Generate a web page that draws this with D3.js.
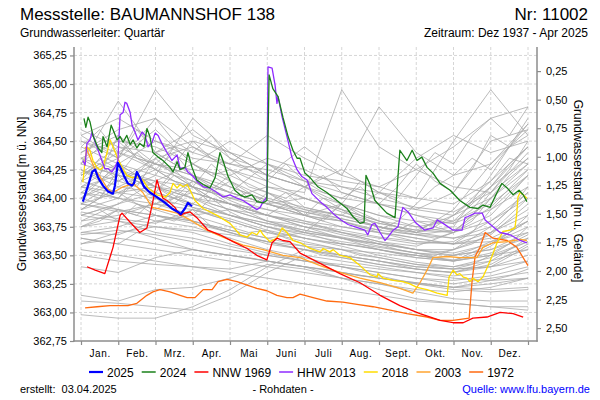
<!DOCTYPE html>
<html><head><meta charset="utf-8">
<script src="https://cdn.jsdelivr.net/npm/d3@7"></script>
<style>
body{margin:0;background:#fff}
svg{display:block;font-family:Arial,"Liberation Sans",sans-serif}
</style></head>
<body><svg id="c" width="600" height="400"></svg>
<script>
// ---------- data ----------
const monthLabels = ["Jan.","Feb.","Mrz.","Apr.","Mai","Juni","Juli","Aug.","Sept.","Okt.","Nov.","Dez."];
const leftTicks = [362.75,363.00,363.25,363.50,363.75,364.00,364.25,364.50,364.75,365.00,365.25];
const rightTicks = [0.25,0.50,0.75,1.00,1.25,1.50,1.75,2.00,2.25,2.50];
const groundLevel = 365.363;
const grayX = [0,1,2,3,4,5,6,7,8,9,10,11,12];
const grayXHalf = [0,0.5,1,1.5,2,2.5,3,3.5,4,4.5,5,5.5,6,6.5,7,7.5,8,8.5,9,9.5,10,10.5,11,11.5,12];
const grayYears = [
 [364.40,364.55,364.30,364.20,364.05,363.95,363.85,363.80,363.70,363.62,363.60,363.70,363.90],
 [364.20,364.35,364.60,364.30,364.10,363.98,363.90,363.82,363.75,363.68,363.65,363.75,364.05],
 [364.05,364.00,363.95,364.15,363.98,363.85,363.75,363.70,363.62,363.55,363.50,363.55,363.65],
 [363.90,364.10,364.25,364.05,363.95,363.80,363.70,363.65,363.55,363.50,363.45,363.60,363.80],
 [363.80,363.85,363.95,363.90,363.80,363.70,363.62,363.55,363.48,363.42,363.40,363.45,363.55],
 [364.30,364.85,364.40,364.60,364.35,364.15,364.00,363.90,363.80,363.75,363.80,364.10,364.45],
 [364.50,364.35,364.95,364.55,364.40,364.20,364.10,364.25,364.05,363.90,363.85,364.00,364.30],
 [363.70,363.75,363.85,363.80,363.70,363.60,363.55,363.50,363.45,363.40,363.38,363.40,363.50],
 [364.10,364.20,364.15,364.10,364.00,363.90,363.85,363.95,363.85,363.75,363.70,363.85,364.20],
 [363.95,364.05,364.10,364.00,363.90,363.85,363.80,363.70,363.65,363.60,363.62,363.80,364.00],
 [364.25,364.15,364.35,364.45,364.25,364.10,364.05,364.95,364.45,364.25,364.10,364.05,364.30],
 [364.00,363.90,363.85,363.80,363.72,363.65,363.58,363.50,363.45,363.38,363.35,363.42,363.60],
 [363.60,363.70,363.75,363.70,363.60,363.52,363.45,363.40,363.35,363.30,363.28,363.32,363.40],
 [364.45,364.30,364.50,364.35,364.30,364.20,364.45,364.20,364.80,364.40,364.20,364.30,364.60],
 [364.15,364.30,364.20,364.70,364.40,364.20,364.10,364.00,363.95,363.85,363.80,363.95,364.20],
 [363.85,363.95,364.05,363.95,363.85,363.75,363.68,363.62,363.57,363.52,363.50,363.55,363.70],
 [364.35,364.50,364.45,364.30,364.50,364.30,364.15,364.05,363.95,363.90,364.05,364.50,364.60],
 [363.75,363.80,363.70,363.65,363.58,363.50,363.45,363.40,363.35,363.30,363.25,363.30,363.35],
 [364.00,364.15,364.30,364.20,364.05,364.30,364.10,363.95,363.85,363.80,363.78,363.90,364.10],
 [364.55,364.70,364.50,364.40,364.30,364.25,364.15,364.10,364.05,364.00,364.50,364.95,364.55],
 [364.10,364.05,364.00,363.92,363.85,363.78,363.70,363.65,363.60,363.55,363.52,363.60,363.75],
 [363.65,363.60,363.55,363.50,363.45,363.40,363.35,363.30,363.25,363.20,363.18,363.22,363.30],
 [364.30,364.20,364.10,364.05,363.95,363.85,363.78,363.70,363.62,363.58,363.70,364.00,364.25],
 [363.95,363.90,363.80,363.85,363.90,363.80,363.72,363.65,363.58,363.52,363.45,363.50,363.62],
 [364.60,364.45,364.40,364.50,364.40,364.30,364.20,364.15,364.10,364.25,364.45,364.70,364.80],
 [364.20,364.40,364.25,364.15,364.00,363.95,364.00,363.90,363.80,363.70,363.65,363.70,363.85],
 [363.80,363.95,364.15,364.00,363.85,363.75,363.65,363.60,363.55,363.48,363.45,363.52,363.68],
 [364.05,364.25,364.10,364.00,363.95,363.90,363.80,363.75,363.70,363.65,363.60,363.65,363.80],
 [363.70,363.68,363.80,363.75,363.65,363.55,363.48,363.40,363.32,363.25,363.22,363.25,363.30],
 [363.10,363.08,363.05,363.02,363.15,363.35,363.50,363.45,363.40,363.35,363.30,363.28,363.30],
 [362.98,362.95,362.95,363.05,363.20,363.40,363.55,363.50,363.45,363.40,363.38,363.40,363.45],
 [363.15,363.10,363.20,363.22,363.30,363.42,363.38,363.30,363.25,363.18,363.12,363.10,363.10],
 [363.55,363.50,363.45,363.40,363.35,363.30,363.25,363.20,363.15,363.10,363.08,363.05,363.05],
 [363.40,363.35,363.48,363.55,363.50,363.45,363.40,363.35,363.30,363.25,363.20,363.18,363.20],
 [363.50,363.45,363.42,363.40,363.38,363.45,363.40,363.30,363.20,363.12,363.08,363.05,363.02],
 [364.25,364.10,364.05,363.95,364.20,364.05,363.90,363.85,364.05,364.35,364.55,364.40,364.50],
 [363.90,364.00,363.90,363.80,363.72,363.65,363.70,363.95,363.80,363.70,363.90,364.30,364.65],
 [364.40,364.60,364.70,364.45,364.30,364.55,364.35,364.20,364.10,364.00,363.95,364.15,364.45],
 [363.85,363.80,363.75,363.72,363.68,363.62,363.58,363.55,363.52,363.48,363.45,363.50,363.55],
 [364.15,364.05,364.20,364.10,364.00,364.10,364.00,363.88,363.78,363.72,363.85,364.10,364.35],
 [364.00,364.30,364.10,363.95,363.85,363.78,363.72,363.66,363.60,363.55,363.55,363.68,363.95],
 [363.75,363.90,363.85,363.78,363.70,363.62,363.55,363.48,363.42,363.38,363.35,363.40,363.58],
 [364.35,364.25,364.15,364.30,364.15,364.00,363.92,363.85,363.78,363.72,363.70,363.80,364.05],
 [363.60,363.65,363.60,363.55,363.50,363.45,363.40,363.35,363.30,363.26,363.22,363.20,363.22],
 [364.10,364.00,364.40,364.20,364.10,363.98,363.88,363.82,363.75,363.70,363.75,364.20,364.70],
 [363.88,363.82,363.78,363.90,363.82,363.72,363.65,363.58,363.50,363.44,363.40,363.48,363.62],
 [364.22,364.45,364.30,364.15,364.05,363.95,363.88,363.80,363.72,363.68,363.72,363.92,364.25],
 [363.95,363.88,363.95,364.05,363.95,363.85,363.78,363.72,363.66,363.62,363.60,363.62,363.70],
 [364.50,364.40,364.30,364.25,364.20,364.35,364.25,364.10,364.00,363.92,363.88,364.05,364.40],
 [363.68,363.72,363.68,363.62,363.55,363.50,363.45,363.42,363.38,363.35,363.32,363.35,363.45]
];
const grayYearsHalf = [
 [364.30,364.45,364.35,364.60,364.40,364.30,364.50,364.35,364.25,364.20,364.15,364.30,364.15,364.05,364.00,364.10,363.95,363.90,363.85,363.80,363.78,363.90,364.10,364.30,364.45],
 [364.10,364.20,364.55,364.35,364.25,364.40,364.20,364.10,364.05,364.00,363.95,363.90,363.85,363.80,363.95,363.85,363.75,363.70,363.68,363.65,363.70,363.80,364.00,364.20,364.35],
 [363.95,364.05,364.00,364.15,364.05,364.25,364.10,364.00,363.95,363.90,363.85,363.80,363.75,363.72,363.68,363.65,363.60,363.58,363.55,363.52,363.55,363.60,363.70,363.85,364.00],
 [364.45,364.60,364.40,364.50,364.70,364.50,364.40,364.55,364.35,364.30,364.20,364.15,364.10,364.20,364.05,364.00,363.95,364.10,364.30,364.15,364.05,364.25,364.55,364.45,364.65],
 [363.85,363.90,363.80,363.95,363.85,363.80,363.90,363.75,363.70,363.65,363.62,363.58,363.55,363.50,363.48,363.45,363.42,363.40,363.38,363.36,363.35,363.40,363.45,363.55,363.65],
 [364.20,364.30,364.15,364.10,364.35,364.20,364.10,364.05,364.15,364.00,363.95,364.05,363.92,363.88,363.85,363.80,363.75,363.72,363.80,363.75,363.70,363.85,364.05,364.25,364.50],
 [364.05,364.00,364.25,364.10,364.00,363.95,364.10,363.95,363.90,363.85,363.80,363.78,363.75,363.70,363.65,363.62,363.60,363.55,363.52,363.50,363.55,363.65,363.75,363.90,364.10],
 [364.55,364.45,364.50,364.35,364.30,364.45,364.30,364.20,364.25,364.10,364.05,364.00,364.10,364.00,363.95,364.15,364.05,364.00,364.20,364.40,364.30,364.55,364.70,364.55,364.80],
 [363.75,363.80,363.90,363.85,364.00,363.90,363.85,363.80,363.75,363.70,363.72,363.65,363.60,363.58,363.55,363.50,363.48,363.45,363.42,363.40,363.38,363.42,363.50,363.60,363.75],
 [364.25,364.15,364.30,364.20,364.10,364.00,364.15,364.05,363.95,363.90,364.05,363.95,363.85,364.00,363.90,363.80,363.75,363.72,363.70,363.75,363.85,364.00,364.15,364.35,364.30],
 [364.00,364.10,364.05,363.95,363.90,364.00,363.92,363.85,363.80,363.75,363.70,363.68,363.65,363.62,363.60,363.58,363.55,363.52,363.50,363.48,363.50,363.55,363.62,363.70,363.80],
 [364.35,364.25,364.20,364.40,364.25,364.15,364.10,364.30,364.15,364.05,363.95,363.90,363.85,363.82,363.80,363.75,363.72,363.80,363.95,364.10,364.20,364.35,364.25,364.45,364.55],
 [363.90,364.00,364.20,364.05,363.95,363.90,363.85,364.00,363.88,363.80,363.75,363.72,363.70,363.65,363.60,363.58,363.55,363.52,363.50,363.48,363.46,363.50,363.58,363.70,363.85],
 [364.15,364.35,364.25,364.15,364.05,364.20,364.10,364.00,363.95,363.90,363.85,363.95,363.85,363.80,363.75,363.72,363.70,363.68,363.65,363.62,363.60,363.70,363.90,364.05,364.20],
 [363.65,363.62,363.60,363.70,363.65,363.60,363.55,363.52,363.50,363.48,363.45,363.42,363.40,363.38,363.35,363.32,363.30,363.28,363.26,363.24,363.22,363.25,363.28,363.32,363.38]
];
// highlighted years: [month position, level m ü. NN]
const y2025 = [[0.05,363.97],[0.19,364.11],[0.30,364.23],[0.38,364.25],[0.46,364.18],[0.59,364.11],[0.72,364.06],[0.86,364.04],[0.91,364.11],[0.99,364.31],[1.07,364.26],[1.15,364.20],[1.26,364.13],[1.37,364.11],[1.42,364.13],[1.50,364.23],[1.58,364.18],[1.69,364.10],[1.85,364.05],[2.04,364.01],[2.26,363.96],[2.44,363.91],[2.60,363.88],[2.68,363.86],[2.79,363.91],[2.87,363.96],[2.98,363.93]];
const y2024 = [[0.08,364.70],[0.13,364.62],[0.19,364.71],[0.24,364.67],[0.32,364.55],[0.46,364.44],[0.56,364.40],[0.59,364.54],[0.70,364.45],[0.81,364.64],[0.86,364.60],[0.97,364.51],[1.05,364.54],[1.13,364.49],[1.23,364.55],[1.32,364.47],[1.40,364.51],[1.50,364.44],[1.58,364.48],[1.69,364.45],[1.77,364.61],[1.85,364.54],[1.93,364.40],[2.07,364.36],[2.20,364.33],[2.39,364.27],[2.47,364.23],[2.58,364.32],[2.66,364.25],[2.79,364.27],[2.87,364.40],[2.98,364.27],[3.11,364.16],[3.28,364.12],[3.46,364.09],[3.60,364.18],[3.73,364.40],[3.81,364.33],[3.95,364.19],[4.13,364.07],[4.27,364.03],[4.40,364.01],[4.59,364.03],[4.72,363.97],[4.89,363.96],[4.99,363.98],[5.05,365.08],[5.15,364.96],[5.29,364.89],[5.42,364.71],[5.56,364.54],[5.69,364.42],[5.80,364.35],[5.88,364.35],[6.01,364.22],[6.15,364.18],[6.36,364.10],[6.60,364.05],[6.87,363.98],[7.14,363.91],[7.30,363.84],[7.49,363.78],[7.60,363.79],[7.65,364.20],[7.76,364.12],[7.89,363.98],[8.21,363.87],[8.43,363.83],[8.56,364.42],[8.75,364.33],[8.89,364.42],[9.02,364.33],[9.15,364.36],[9.29,364.27],[9.45,364.22],[9.64,364.13],[9.91,364.07],[10.17,363.98],[10.44,363.92],[10.66,363.91],[10.79,363.94],[10.98,363.92],[11.17,364.05],[11.30,364.13],[11.44,364.09],[11.60,364.03],[11.76,364.07],[11.87,364.03],[11.97,363.97]];
const nnw1969 = [[0.16,363.40],[0.38,363.37],[0.64,363.34],[0.86,363.57],[1.05,363.85],[1.10,363.87],[1.32,363.79],[1.58,363.70],[1.77,363.74],[1.91,363.94],[2.04,364.16],[2.12,364.07],[2.20,364.00],[2.31,363.98],[2.52,363.92],[2.66,363.85],[2.79,363.87],[2.93,363.88],[3.11,363.83],[3.41,363.72],[3.73,363.68],[4.08,363.62],[4.46,363.56],[4.72,363.50],[4.99,363.46],[5.13,363.61],[5.26,363.65],[5.42,363.63],[5.61,363.62],[5.88,363.52],[6.42,363.43],[6.95,363.34],[7.49,363.26],[8.03,363.15],[8.56,363.06],[9.10,362.99],[9.64,362.93],[9.99,362.91],[10.26,362.91],[10.52,362.95],[10.90,362.96],[11.25,363.00],[11.60,362.99],[11.87,362.96]];
const hhw2013 = [[0.05,364.33],[0.11,364.29],[0.16,364.48],[0.24,364.51],[0.30,364.58],[0.38,364.49],[0.46,364.42],[0.56,364.33],[0.64,364.26],[0.72,364.26],[0.83,364.23],[0.91,364.27],[0.99,364.33],[1.05,364.73],[1.13,364.75],[1.18,364.84],[1.23,364.83],[1.32,364.75],[1.37,364.64],[1.45,364.58],[1.53,364.51],[1.64,364.58],[1.72,364.55],[1.80,364.45],[1.91,364.49],[1.99,364.57],[2.07,364.55],[2.17,364.48],[2.31,364.40],[2.44,364.33],[2.58,364.38],[2.66,364.26],[2.79,364.27],[2.87,364.23],[3.01,364.19],[3.14,364.14],[3.28,364.10],[3.46,364.09],[3.65,364.05],[3.81,364.01],[4.00,364.03],[4.19,364.00],[4.35,363.98],[4.54,363.94],[4.72,363.90],[4.81,363.92],[4.89,363.97],[4.99,364.01],[5.02,365.15],[5.13,365.14],[5.21,364.99],[5.26,364.83],[5.29,364.89],[5.40,364.71],[5.53,364.54],[5.66,364.36],[5.80,364.25],[5.93,364.19],[6.07,364.16],[6.20,364.04],[6.42,363.97],[6.60,363.92],[6.82,363.85],[6.98,363.81],[7.17,363.77],[7.44,363.74],[7.62,363.72],[7.70,363.68],[7.81,363.77],[7.89,363.78],[8.03,363.70],[8.16,363.63],[8.24,363.66],[8.38,363.72],[8.51,363.75],[8.64,363.92],[8.78,363.88],[8.97,363.79],[9.23,363.72],[9.45,363.74],[9.56,363.81],[9.72,363.78],[9.99,363.72],[10.23,363.72],[10.31,363.83],[10.39,363.84],[10.58,363.87],[10.77,363.87],[10.85,363.81],[11.03,363.76],[11.25,363.70],[11.52,363.68],[11.79,363.63],[11.97,363.61]];
const y2018 = [[0.05,364.14],[0.11,364.33],[0.16,364.45],[0.24,364.42],[0.32,364.33],[0.43,364.27],[0.51,364.25],[0.59,364.27],[0.70,364.40],[0.78,364.51],[0.86,364.45],[0.97,364.36],[1.10,364.27],[1.23,364.20],[1.37,364.18],[1.50,364.19],[1.66,364.16],[1.80,364.09],[2.04,364.03],[2.26,364.01],[2.39,364.05],[2.47,364.13],[2.58,364.09],[2.66,364.12],[2.74,364.10],[2.85,364.12],[2.93,364.07],[3.06,363.98],[3.28,363.91],[3.65,363.85],[4.00,363.78],[4.27,363.68],[4.46,363.66],[4.59,363.70],[4.72,363.68],[4.81,363.72],[4.89,363.68],[5.07,363.62],[5.26,363.65],[5.40,363.74],[5.53,363.70],[5.69,363.63],[5.88,363.61],[6.15,363.56],[6.42,363.53],[6.50,363.56],[6.68,363.53],[6.77,363.55],[6.95,363.50],[7.22,363.48],[7.49,363.41],[7.76,363.33],[7.95,363.31],[7.97,363.34],[8.11,363.30],[8.38,363.28],[8.64,363.27],[8.83,363.25],[9.02,363.22],[9.29,363.20],[9.56,363.17],[9.83,363.15],[9.88,363.31],[9.99,363.37],[10.09,363.33],[10.17,363.34],[10.26,363.31],[10.36,363.30],[10.44,363.27],[10.52,363.30],[10.66,363.27],[10.79,363.31],[10.90,363.39],[11.03,363.49],[11.17,363.61],[11.33,363.71],[11.52,363.72],[11.65,363.74],[11.70,363.87],[11.73,364.01],[11.79,364.05],[11.87,364.03],[11.97,364.00]];
const y2003 = [[0.11,364.45],[0.19,364.40],[0.30,364.31],[0.38,364.25],[0.51,364.19],[0.70,364.09],[0.83,364.05],[0.97,364.07],[1.13,364.10],[1.32,364.12],[1.40,364.13],[1.66,364.05],[1.91,363.92],[2.20,363.90],[2.58,363.87],[2.93,363.81],[3.38,363.72],[3.81,363.66],[4.35,363.59],[4.89,363.55],[5.42,363.50],[5.88,363.48],[6.42,363.41],[6.95,363.35],[7.49,363.30],[8.03,363.26],[8.56,363.21],[8.91,363.17],[9.10,363.26],[9.29,363.37],[9.45,363.48],[9.83,363.49],[10.17,363.48],[10.63,363.48],[10.79,363.57],[11.06,363.61],[11.44,363.62],[11.79,363.64],[11.97,363.63]];
const y1972 = [[0.11,363.04],[0.43,363.05],[0.78,363.06],[1.26,363.06],[1.50,363.08],[1.77,363.15],[1.93,363.18],[2.12,363.20],[2.39,363.18],[2.66,363.15],[2.85,363.13],[3.06,363.13],[3.28,363.20],[3.52,363.20],[3.68,363.27],[3.92,363.29],[4.19,363.27],[4.46,363.24],[4.72,363.21],[4.99,363.19],[5.26,363.15],[5.53,363.13],[5.69,363.13],[5.88,363.16],[6.23,363.13],[6.60,363.10],[7.03,363.09],[7.41,363.07],[7.84,363.05],[8.30,363.02],[8.75,362.99],[9.29,362.96],[9.64,362.93],[9.99,362.93],[10.42,362.95],[10.50,363.28],[10.58,363.49],[10.71,363.57],[10.85,363.70],[11.06,363.65],[11.44,363.63],[11.70,363.57],[12.0,363.41]];
const legendNames = ["2025","2024","NNW 1969","HHW 2013","2018","2003","1972"];
const legendColors = ["#0000ff","#1a801a","#ff0000","#8f2bff","#ffdd00","#ffa530","#ff6a10"];
const highlightData = [y2025,y2024,nnw1969,hhw2013,y2018,y2003,y1972];

// ---------- layout ----------
const svg = d3.select("#c");
const L = 74, R = 537, T = 47, B = 341;
const x = d3.scaleLinear().domain([0,12]).range([81,528]);
const y = d3.scaleLinear().domain([362.75,365.324]).range([B,T]);
const yR = d3.scaleLinear().domain([groundLevel-362.75, groundLevel-365.324]).range([B,T]);
const fmt = d3.formatLocale({decimal:",",thousands:".",grouping:[3],currency:["","€"]}).format(".2f");
const axisCol = "#8c8c8c", gridCol = "#d6d6d6";

// grid
const grid = svg.append("g");
grid.selectAll("line.h").data(leftTicks.filter(v=>v>362.75)).join("line")
  .attr("x1",L).attr("x2",R).attr("y1",d=>y(d)).attr("y2",d=>y(d))
  .attr("stroke",gridCol).attr("stroke-dasharray","3,2").attr("stroke-width",1);
grid.selectAll("line.v").data(d3.range(0,13)).join("line")
  .attr("x1",d=>x(d)).attr("x2",d=>x(d)).attr("y1",T).attr("y2",B)
  .attr("stroke",gridCol).attr("stroke-dasharray","3,2").attr("stroke-width",1);

// clip
svg.append("clipPath").attr("id","pc").append("rect").attr("x",L).attr("y",T).attr("width",R-L).attr("height",B-T);
const plot = svg.append("g").attr("clip-path","url(#pc)");

const grayLine = d3.line().x((d,i)=>x(grayX[i])).y(d=>y(d));
const grayLineHalf = d3.line().x((d,i)=>x(grayXHalf[i])).y(d=>y(d));
plot.append("g").selectAll("path").data(grayYears).join("path")
  .attr("d",grayLine).attr("fill","none").attr("stroke","#aaaaaa").attr("stroke-width",0.8);
plot.append("g").selectAll("path").data(grayYearsHalf).join("path")
  .attr("d",grayLineHalf).attr("fill","none").attr("stroke","#aaaaaa").attr("stroke-width",0.8);

const hl = d3.line().x(d=>x(d[0])).y(d=>y(d[1]));
const order = [6,5,4,3,2,1,0];
order.forEach(i=>{
  plot.append("path").datum(highlightData[i]).attr("d",hl).attr("fill","none")
    .attr("stroke",legendColors[i]).attr("stroke-width", i===0?2.2:1.3).attr("stroke-linejoin","round");
});

// frame
const frame = svg.append("g").attr("stroke",axisCol).attr("stroke-width",1.5);
frame.append("line").attr("x1",L).attr("x2",L).attr("y1",T).attr("y2",B+0.75);
frame.append("line").attr("x1",R).attr("x2",R).attr("y1",T).attr("y2",B+0.75);
frame.append("line").attr("x1",L-0.75).attr("x2",R+0.75).attr("y1",B).attr("y2",B);

function styleAxis(g){
  g.select(".domain").remove();
  g.selectAll(".tick line").attr("stroke",axisCol).attr("stroke-width",1.2);
  g.selectAll(".tick text").attr("fill","#000");
}
svg.append("g").attr("transform",`translate(${L},0)`)
  .call(d3.axisLeft(y).tickValues(leftTicks).tickSize(4).tickPadding(3).tickFormat(fmt))
  .attr("font-size",11).attr("font-family",null).call(styleAxis);
svg.append("g").attr("transform",`translate(${R},0)`)
  .call(d3.axisRight(yR).tickValues(rightTicks).tickSize(4).tickPadding(5).tickFormat(fmt))
  .attr("font-size",11).attr("font-family",null).call(styleAxis);
svg.append("g").attr("transform",`translate(0,${B})`)
  .call(d3.axisBottom(x).tickValues(d3.range(0,13)).tickSize(4).tickFormat(""))
  .call(styleAxis);
svg.append("g").attr("transform",`translate(0,${B})`)
  .call(d3.axisBottom(x).tickValues(d3.range(0.5,12,1)).tickSize(0).tickPadding(9).tickFormat((d,i)=>monthLabels[i]))
  .attr("font-size",10).attr("font-family",null).call(styleAxis)
  .selectAll("text").attr("letter-spacing","0.6px");

// titles
const t = svg.append("g").attr("fill","#000");
t.append("text").attr("x",20).attr("y",20).attr("font-size",17).text("Messstelle: BAUMANNSHOF 138");
t.append("text").attr("x",588).attr("y",20).attr("font-size",17).attr("text-anchor","end").text("Nr: 11002");
t.append("text").attr("x",20).attr("y",37).attr("font-size",12).text("Grundwasserleiter: Quartär");
t.append("text").attr("x",588).attr("y",37).attr("font-size",12).attr("text-anchor","end").text("Zeitraum: Dez 1937 - Apr 2025");
t.append("text").attr("transform",`translate(26,${(T+B)/2}) rotate(-90)`).attr("font-size",12).attr("text-anchor","middle").text("Grundwasserstand [m ü. NN]");
t.append("text").attr("transform",`translate(574,${(T+B)/2-3}) rotate(90)`).attr("font-size",12).attr("text-anchor","middle").text("Grundwasserstand [m u. Gelände]");

// legend
const lg = svg.append("g");
let lx = 89;
legendNames.forEach((n,i)=>{
  lg.append("line").attr("x1",lx).attr("x2",lx+14).attr("y1",372).attr("y2",372)
    .attr("stroke",legendColors[i]).attr("stroke-width",i===0?2.2:1.5);
  const tx = lg.append("text").attr("x",lx+18).attr("y",376.5).attr("font-size",12).text(n);
  lx += 18 + tx.node().getComputedTextLength() + 8;
});

// footer
t.append("text").attr("x",20).attr("y",393).attr("font-size",11).attr("xml:space","preserve").text("erstellt:  03.04.2025");
t.append("text").attr("x",283).attr("y",393).attr("font-size",11).attr("text-anchor","middle").text("- Rohdaten -");
t.append("text").attr("x",590).attr("y",393).attr("font-size",11).attr("text-anchor","end").attr("fill","#0000ff").text("Quelle: www.lfu.bayern.de");
</script>
</body></html>
